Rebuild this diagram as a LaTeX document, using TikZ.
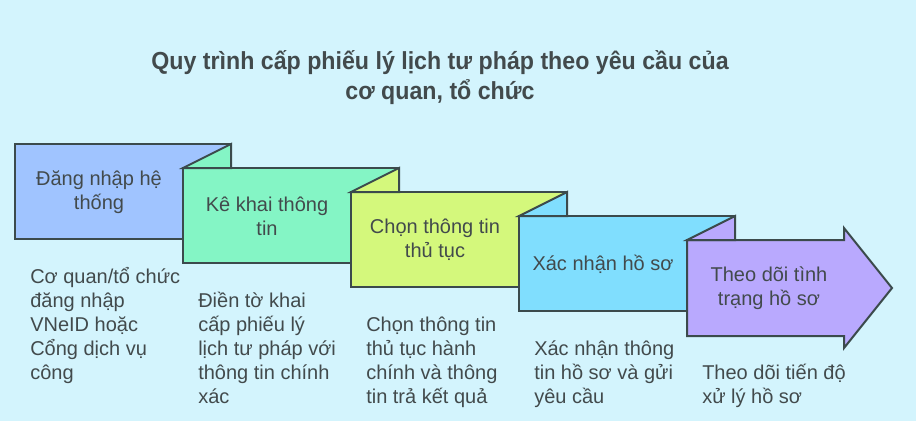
\documentclass[tikz,border=0pt]{standalone}
\usepackage{fontspec}
\setmainfont{Liberation Sans}
\newfontfamily\titlefont[FakeStretch=0.94]{Liberation Sans}
\definecolor{bg}{HTML}{D3F4FD}
\definecolor{cA}{HTML}{A0C4FF}
\definecolor{cB}{HTML}{84F5C5}
\definecolor{cC}{HTML}{D4F87C}
\definecolor{cD}{HTML}{80DEFE}
\definecolor{cE}{HTML}{B9A9FE}
\definecolor{edge}{HTML}{3B4A4C}
\definecolor{txt}{HTML}{424A4C}
\begin{document}
\begin{tikzpicture}[x=0.75pt,y=-0.75pt,
  shapebox/.style={fill=#1,draw=edge,line width=1.5pt,line join=miter},
  label/.style={align=center,text=txt,font=\fontsize{15}{18}\selectfont,inner sep=0pt},
  desc/.style={align=left,anchor=north west,text=txt,font=\fontsize{15}{18}\selectfont,inner sep=0pt}]
\fill[bg] (0,0) rectangle (916,421);
\useasboundingbox (0,0) rectangle (916,421);
% title
\node[align=center,text=txt,inner sep=0pt,font=\titlefont\bfseries\fontsize{18.5}{22.5}\selectfont] (title) at (440,78)
  {Quy trình cấp phiếu lý lịch tư pháp theo yêu cầu của\\cơ quan, tổ chức};
% box 1
\draw[shapebox=cA] (15,144) rectangle (231,239);
% box 2
\draw[shapebox=cB] (183,168) rectangle (399,263);
\draw[shapebox=cB] (183,168) -- (231,144) -- (231,168) -- cycle;
% box 3
\draw[shapebox=cC] (351,192) rectangle (567,287);
\draw[shapebox=cC] (351,192) -- (399,168) -- (399,192) -- cycle;
% box 4
\draw[shapebox=cD] (519,216) rectangle (735,311);
\draw[shapebox=cD] (519,216) -- (567,192) -- (567,216) -- cycle;
% box 5 (arrow)
\draw[shapebox=cE] (687,240) -- (844,240) -- (844,228) -- (892,288) -- (844,348) -- (844,336) -- (687,336) -- cycle;
\draw[shapebox=cE] (687,240) -- (735,216) -- (735,240) -- cycle;
% labels
\node[label] (t1) at (99,192) {Đăng nhập hệ\\thống};
\node[label] (t2) at (267,216) {Kê khai thông\\tin};
\node[label] (t3) at (435,240) {Chọn thông tin\\thủ tục};
\node[label] (t4) at (603,264) {Xác nhận hồ sơ};
\node[label] (t5) at (769,288) {Theo dõi tình\\trạng hồ sơ};
% descriptions
\node[desc] (d1) at (30,266) {\strut Cơ quan/tổ chức\\\strut đăng nhập\\\strut VNeID hoặc\\\strut Cổng dịch vụ\\\strut công};
\node[desc] (d2) at (198,290) {\strut Điền tờ khai\\\strut cấp phiếu lý\\\strut lịch tư pháp với\\\strut thông tin chính\\\strut xác};
\node[desc] (d3) at (366,314) {\strut Chọn thông tin\\\strut thủ tục hành\\\strut chính và thông\\\strut tin trả kết quả};
\node[desc] (d4) at (534,338) {\strut Xác nhận thông\\\strut tin hồ sơ và gửi\\\strut yêu cầu};
\node[desc] (d5) at (702,362) {\strut Theo dõi tiến độ\\\strut xử lý hồ sơ};
\end{tikzpicture}
\end{document}
